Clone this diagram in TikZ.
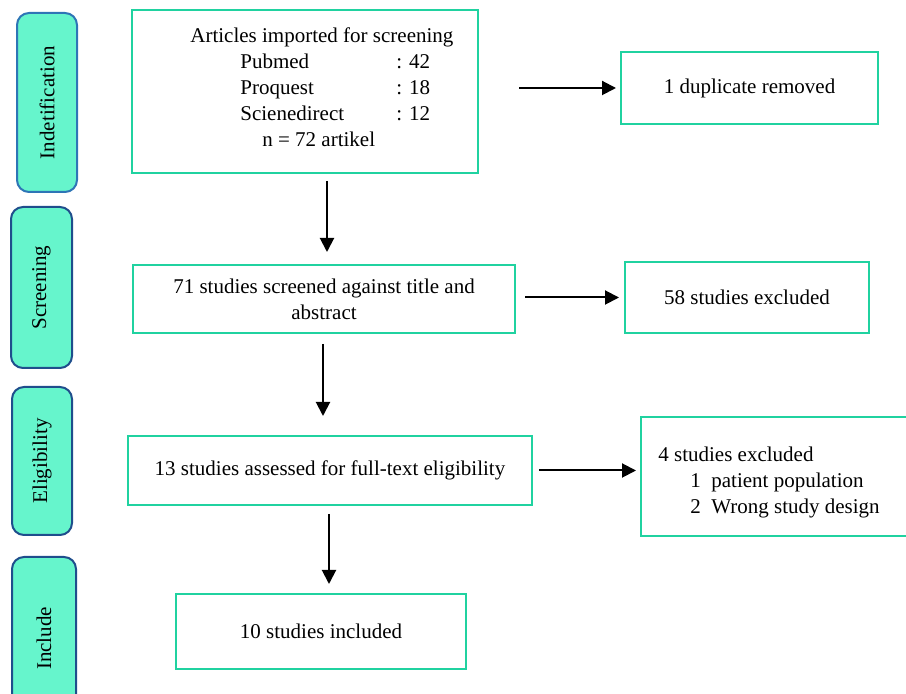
\documentclass[tikz,border=0pt]{standalone}
\usepackage{fontspec}
\setmainfont{Liberation Serif}
\usetikzlibrary{arrows.meta}
\definecolor{mint}{RGB}{102,245,204}
\definecolor{lightblue}{RGB}{46,117,182}
\definecolor{darkblue}{RGB}{31,78,140}
\definecolor{boxgreen}{RGB}{32,210,160}
\tikzset{
  stage/.style={
    draw=darkblue,
    fill=mint,
    line width=1pt,
    rounded corners=6pt,
    rotate=90,
    inner sep=0pt
  },
  flowbox/.style={
    draw=boxgreen,
    line width=1pt,
    inner sep=0pt,
    align=center
  },
  flowarrow/.style={
    line width=1pt,
    -{Triangle[length=7pt,width=7pt]}
  },
  every node/.style={
    font=\fontsize{10.5}{13}\selectfont
  }
}
\begin{document}
\begin{tikzpicture}[x=0.5pt,y=-0.5pt]
  \useasboundingbox (0,0) rectangle (906,694);
  \node[stage,draw=lightblue,minimum width=89.5pt,minimum height=30pt] (ident) at (47,102.5) {Indetification};
  \node[stage,minimum width=80.5pt,minimum height=30.5pt] (screen) at (41.5,287.5) {Screening};
  \node[stage,minimum width=74pt,minimum height=30pt] (elig) at (42,461) {Eligibility};
  \node[stage,minimum width=81.5pt,minimum height=32pt] (incl) at (44,638.5) {Include};

  \node[flowbox,minimum width=173pt,minimum height=81.5pt] (imported) at (305,91.5) {};
  \node[anchor=north west,inner sep=0pt,align=left] (importedtext) at (190,27) {Articles imported for screening\\
    \hspace*{25pt}\makebox[78pt][l]{Pubmed}: 42\\
    \hspace*{25pt}\makebox[78pt][l]{Proquest}: 18\\
    \hspace*{25pt}\makebox[78pt][l]{Scienedirect}: 12\\
    \hspace*{36pt}n = 72 artikel};
  \node[flowbox,minimum width=128.5pt,minimum height=36pt] (duplicate) at (749.5,88) {1 duplicate removed};
  \node[flowbox,minimum width=191pt,minimum height=34pt] (screened) at (324,299) {71 studies screened against title and\\abstract};
  \node[flowbox,minimum width=122pt,minimum height=35.5pt] (excluded) at (747,297.5) {58 studies excluded};
  \node[flowbox,minimum width=202pt,minimum height=34.5pt] (assessed) at (330,470.5) {13 studies assessed for full-text eligibility};
  \node[flowbox,minimum width=134.5pt,minimum height=59.5pt] (fulltext) at (775.5,476.5) {};
  \node[anchor=north west,inner sep=0pt,align=left] (fulltexttext) at (658,447) {4 studies excluded\\
    \hspace*{16pt}1\enspace patient population\\
    \hspace*{16pt}2\enspace Wrong study design};
  \node[flowbox,minimum width=145pt,minimum height=37.5pt] (included) at (321,631.5) {10 studies included};

  \draw[flowarrow,shorten <=20pt,shorten >=2pt] (imported.east |- duplicate.west) -- (duplicate.west);
  \draw[flowarrow,shorten <=4.5pt,shorten >=2.5pt] (screened.east |- excluded.west) -- (excluded.west);
  \draw[flowarrow,shorten <=3pt,shorten >=2pt] (assessed.east) -- (assessed.east -| fulltext.west);
  \draw[flowarrow,shorten <=3.5pt,shorten >=6pt] ([xshift=11pt]imported.south) -- ([xshift=1.5pt]screened.north);
  \draw[flowarrow,shorten <=5pt,shorten >=9.5pt] ([xshift=-0.5pt]screened.south) -- ([xshift=-3.5pt]assessed.north);
  \draw[flowarrow,shorten <=4pt,shorten >=4.5pt] ([xshift=-0.5pt]assessed.south) -- ([xshift=4pt]included.north);
\end{tikzpicture}
\end{document}
